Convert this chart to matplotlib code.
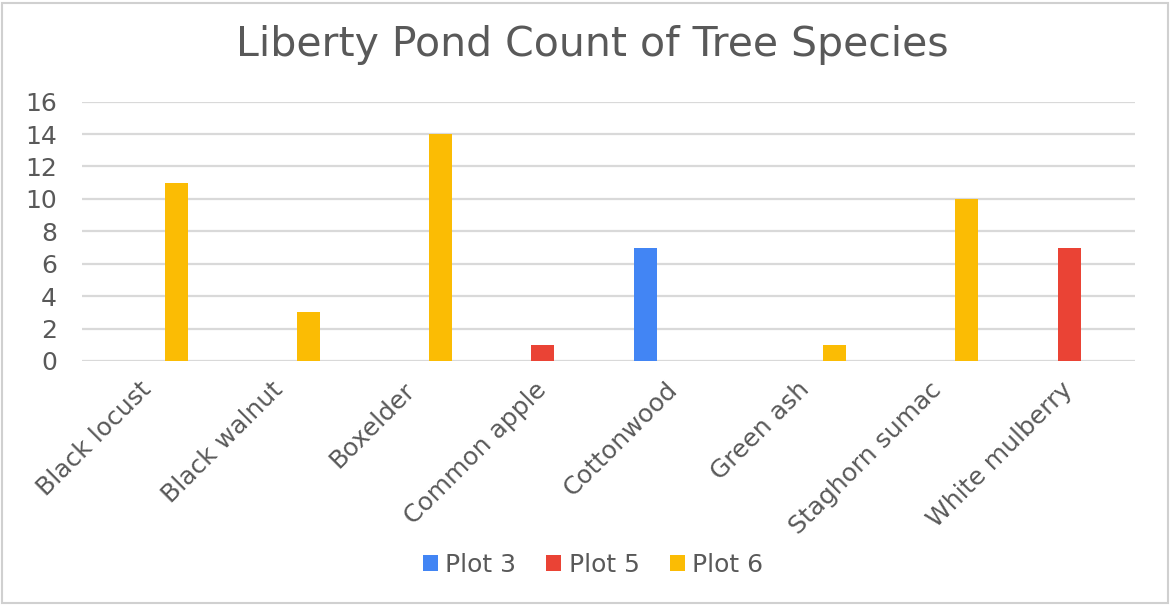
import numpy as np
import matplotlib
matplotlib.use("Agg")
import matplotlib.pyplot as plt
from matplotlib.patches import Rectangle

species = ["Black locust", "Black walnut", "Boxelder", "Common apple",
           "Cottonwood", "Green ash", "Staghorn sumac", "White mulberry"]
plot3 = [0, 0, 0, 0, 7, 0, 0, 0]
plot5 = [0, 0, 0, 1, 0, 0, 0, 7]
plot6 = [11, 3, 14, 0, 0, 1, 10, 0]
series_names = ["Plot 3", "Plot 5", "Plot 6"]
colors = ["#4285f4", "#ea4335", "#fbbc04"]

plt.rcParams["font.family"] = ["DejaVu Sans"]
text_grey = "#595959"

fig = plt.figure(figsize=(11.72, 6.06), dpi=100)
ax = fig.add_axes([82 / 1172, 1 - 361 / 606, (1135 - 82) / 1172, (361 - 101.6) / 606])

x = np.arange(len(species))
width = 0.175
offset = 0.22
for i, (vals, name, c) in enumerate(zip([plot3, plot5, plot6], series_names, colors)):
    ax.bar(x + (i - 1) * offset, vals, width, color=c, label=name, zorder=3)

ax.set_xlim(-0.5, len(species) - 0.5)
ax.set_ylim(0, 16)
ax.set_yticks(range(0, 17, 2))
ax.grid(axis="y", color="#d9d9d9", linewidth=1.6, zorder=0)
for s in ax.spines.values():
    s.set_visible(False)
ax.tick_params(axis="both", length=0, colors=text_grey)
ax.tick_params(axis="y", labelsize=18, pad=18)
ax.set_xticks(x)
ax.set_xticklabels(species, rotation=45, ha="right", va="center", rotation_mode="anchor")
ax.tick_params(axis="x", labelsize=18, pad=18)

fig.text(0.505, 1 - 45 / 606, "Liberty Pond Count of Tree Species", ha="center", va="center",
         fontsize=29.5, color=text_grey)

leg = fig.legend(loc="center", bbox_to_anchor=(593 / 1172, 1 - 565 / 606), ncol=3, frameon=False,
                 fontsize=18, handlelength=0.6, handleheight=0.6, handletextpad=0.3,
                 columnspacing=1.2)
for t in leg.get_texts():
    t.set_color(text_grey)

fig.patches.append(Rectangle((2 / 1172, 3 / 606), 1166 / 1172, 600 / 606, transform=fig.transFigure,
                             fill=False, edgecolor="#d0d0d0", linewidth=1.5))

fig.savefig("out.png", dpi=100)
